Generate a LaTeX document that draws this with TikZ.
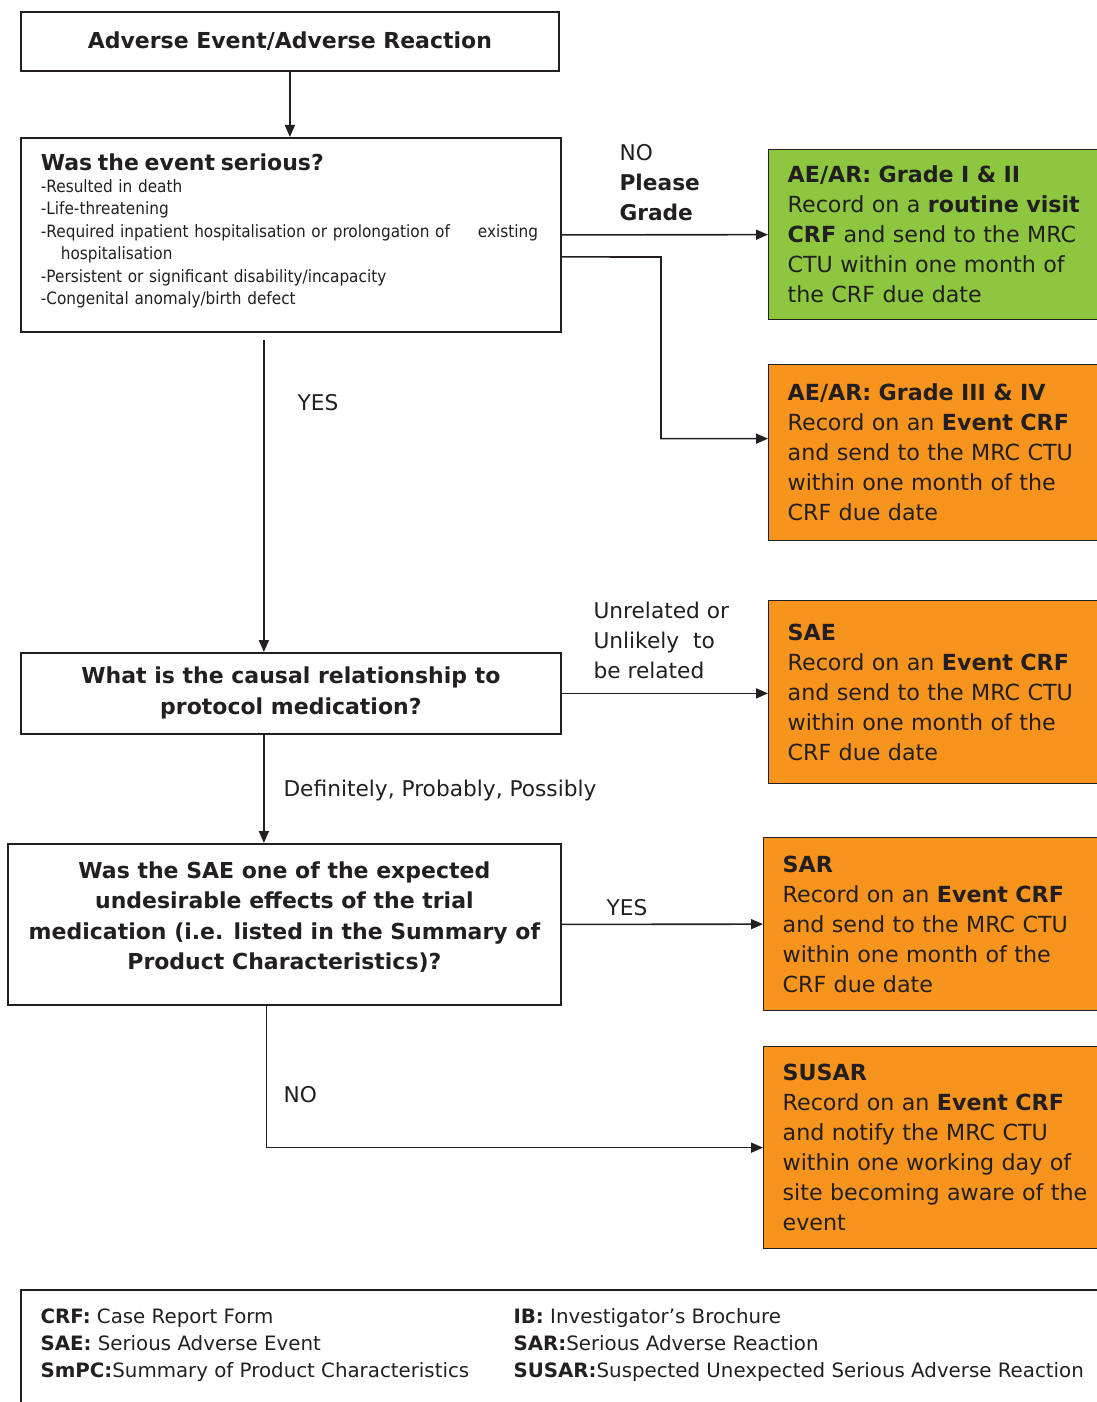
\documentclass[tikz,border=0pt]{standalone}
\usepackage{fontspec}
\setmainfont{DejaVu Sans}
\newfontfamily\narrowfont[FakeStretch=0.9]{DejaVu Sans}
\usetikzlibrary{positioning,arrows.meta,calc}
\definecolor{inkgray}{HTML}{231F20}
\definecolor{gradegreen}{HTML}{8DC63F}
\definecolor{eventorange}{HTML}{F7941D}

\begin{document}
\begin{tikzpicture}[x=1pt,y=-1pt,>={Stealth[length=12pt,width=10pt,inset=0pt]},
  every node/.style={text=inkgray},
  box/.style={draw=inkgray,line width=1.8pt,anchor=north west,inner sep=0pt},
  outcome/.style={box,line width=1.3pt,align=left,inner xsep=19pt,text width=312pt,font=\fontsize{22.2}{30}\selectfont},
  question/.style={box,align=center,font=\bfseries\fontsize{22}{31}\selectfont},
  flow/.style={->,draw=inkgray,line width=1.6pt},
  lbl/.style={font=\fontsize{21.7}{30}\selectfont,align=left}]
\useasboundingbox (0,0) rectangle (1096,1402);

\node[question,minimum width=538,minimum height=59] (ae) at (20,11) {Adverse Event/Adverse Reaction};
\node[box,minimum width=540,minimum height=194,inner xsep=20pt,text width=500pt,align=left,
  font=\narrowfont\fontsize{17}{22.4}\selectfont] (serious) at (20,137)
  {{\rmfamily\fontsize{22}{24}\selectfont\bfseries Was the event serious?}\\
   -Resulted in death\\
   -Life-threatening\\
   \mbox{-Required inpatient hospitalisation or prolongation of\hspace{28pt}existing}\\
   \hspace*{20pt}hospitalisation\\
   -Persistent or significant disability/incapacity\\
   -Congenital anomaly/birth defect\rule[-12pt]{0pt}{12pt}};

\node[outcome,fill=gradegreen,minimum height=170] (grade12) at (768,149)
  {\textbf{AE/AR: Grade I \& II}\\Record on a \textbf{routine visit}\\\textbf{CRF} and send to the MRC\\CTU within one month of\\the CRF due date};
\node[outcome,fill=eventorange,minimum height=176] (grade34) at (768,364)
  {\textbf{AE/AR: Grade III \& IV}\\Record on an \textbf{Event CRF}\\and send to the MRC CTU\\within one month of the\\CRF due date};

\node[question,minimum width=540,minimum height=81] (causal) at (20,652)
  {What is the causal relationship to\\protocol medication?};
\node[outcome,fill=eventorange,minimum height=183] (sae) at (768,600)
  {\textbf{SAE}\\Record on an \textbf{Event CRF}\\and send to the MRC CTU\\within one month of the\\CRF due date};

\node[question,minimum width=553,minimum height=161,font=\bfseries\fontsize{22}{30.5}\selectfont] (expected) at (7,843)
  {Was the SAE one of the expected\\undesirable effects of the trial\\medication (i.e. listed in the Summary of\\Product Characteristics)?\rule[-18pt]{0pt}{18pt}};
\node[outcome,fill=eventorange,minimum height=173] (sar) at (763,837)
  {\textbf{SAR}\\Record on an \textbf{Event CRF}\\and send to the MRC CTU\\within one month of the\\CRF due date};
\node[outcome,fill=eventorange,minimum height=202] (susar) at (763,1046)
  {\textbf{SUSAR}\\Record on an \textbf{Event CRF}\\and notify the MRC CTU\\within one working day of\\site becoming aware of the\\event};

\coordinate (bend) at (661,257);
\draw[flow] (ae.south) -- (ae.south |- serious.north);
\draw[flow] (serious.east) -- (grade12.west);
\draw[flow] ([yshift=-22pt]serious.east) -- (bend) |- ([yshift=14pt]grade34.west);
\draw[flow] ([xshift=-27pt,yshift=-7pt]serious.south) -- ([xshift=-27pt]causal.north);
\draw[flow] (causal.east) -- (causal.east -| sae.west);
\draw[flow] ([xshift=-27pt]causal.south) -- ([xshift=-27pt]causal.south |- expected.north);
\draw[flow] (expected.east) -- (sar.west);
\draw[flow] ([xshift=-18pt]expected.south) |- (susar.west);

\node[lbl,anchor=north west] (nograde) at (616,141) {NO\\\textbf{Please}\\\textbf{Grade}};
\node[lbl,anchor=west] (yesserious) at (294,403) {YES};
\node[lbl,anchor=north west] (unrelated) at (590,598) {Unrelated or\\Unlikely\ \ to\\be related};
\node[lbl,anchor=west] (related) at (280,791) {Definitely, Probably, Possibly};
\node[lbl] (yesexpected) at (627,908) {YES};
\node[lbl,anchor=west] (noexpected) at (280,1095) {NO};

\node[box,minimum width=1100,minimum height=150] (legend) at (20,1289) {};
\node[anchor=north west,align=left,font=\fontsize{19.8}{27}\selectfont] (abbrleft) at (37,1305)
  {\textbf{CRF:} Case Report Form\\\textbf{SAE:} Serious Adverse Event\\\textbf{SmPC:}Summary of Product Characteristics};
\node[anchor=north west,align=left,font=\fontsize{19.8}{27}\selectfont] (abbrright) at (510,1305)
  {\textbf{IB:} Investigator's Brochure\\\textbf{SAR:}Serious Adverse Reaction\\\textbf{SUSAR:}Suspected Unexpected Serious Adverse Reaction};
\end{tikzpicture}
\end{document}
